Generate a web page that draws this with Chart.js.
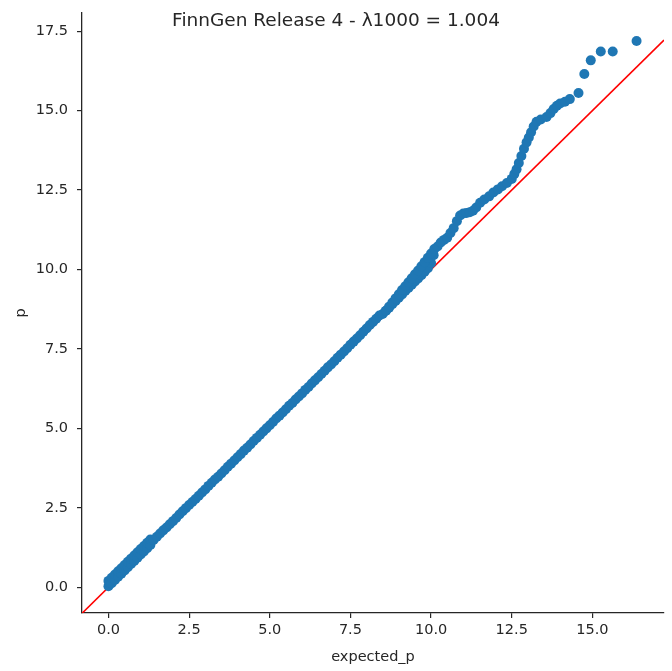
<!DOCTYPE html>
<html>
<head>
<meta charset="utf-8">
<script src="https://cdn.jsdelivr.net/npm/chart.js@4"></script>
<style>
  html, body { margin: 0; padding: 0; background: #fff; }
  #wrap { width: 672px; height: 671px; }
</style>
</head>
<body>
<div id="wrap"><canvas id="qq-chart"></canvas></div>
<script>
const titleText = "FinnGen Release 4 - \u03bb1000 = 1.004";

const expectedP = [
    0, 0, 0.05, 0.1, 0.1, 0.2, 0.2, 0.3, 0.3, 0.4, 0.4, 0.5, 0.5, 0.6, 0.6, 0.7, 0.7,
    0.8, 0.8, 0.9, 0.9, 1.0, 1.0, 1.1, 1.1, 1.2, 1.2, 1.3, 1.3,
    1.4, 1.5, 1.6, 1.7, 1.8, 1.9, 2.0, 2.1, 2.2, 2.3, 2.4, 2.5, 2.6, 2.7, 2.8, 2.9,
    3.0, 3.1, 3.2, 3.3, 3.4, 3.5, 3.6, 3.7, 3.8, 3.9, 4.0, 4.1, 4.2, 4.3, 4.4, 4.5,
    4.6, 4.7, 4.8, 4.9, 5.0, 5.1, 5.2, 5.3, 5.4, 5.5, 5.6, 5.7, 5.8, 5.9, 6.0, 6.1,
    6.2, 6.3, 6.4, 6.5, 6.6, 6.7, 6.8, 6.9, 7.0, 7.1, 7.2, 7.3, 7.4, 7.5, 7.6, 7.7,
    7.8, 7.9, 8.0, 8.1, 8.2, 8.3, 8.4, 8.5, 8.6, 8.7, 8.8, 8.9, 9.0, 9.1, 9.2, 9.3,
    9.4, 9.5, 9.6, 9.7, 9.8, 9.9, 10.0, 10.08,
    8.6, 8.7, 8.8, 8.9, 9.0, 9.1, 9.2, 9.3, 9.4, 9.5, 9.6, 9.7, 9.8, 9.9, 10.0, 10.1,
    10.2, 10.3, 10.4, 10.5, 10.6, 10.7, 10.8, 10.9, 11.0, 11.1, 11.2, 11.3, 11.4,
    11.52, 11.65, 11.8, 11.93, 12.07, 12.2, 12.35, 12.5, 12.58, 12.65, 12.72, 12.8,
    12.88, 12.96, 13.03, 13.1, 13.18, 13.27, 13.4, 13.58, 13.7, 13.8, 13.9, 14.0,
    14.15, 14.3, 14.57, 14.75, 14.95, 15.26, 15.63, 16.37
];
const observedP = [
    0.03, 0.2, 0.12, 0.13, 0.3, 0.23, 0.4, 0.33, 0.5, 0.43, 0.6, 0.53, 0.7, 0.63, 0.8, 0.73, 0.9,
    0.83, 1.0, 0.93, 1.1, 1.03, 1.2, 1.13, 1.3, 1.23, 1.4, 1.33, 1.5,
    1.49, 1.59, 1.69, 1.79, 1.88, 1.98, 2.08, 2.18, 2.29, 2.39, 2.49, 2.59, 2.68, 2.78, 2.88, 2.98,
    3.08, 3.19, 3.29, 3.39, 3.48, 3.58, 3.68, 3.79, 3.89, 3.99, 4.09, 4.19, 4.3, 4.39, 4.49, 4.6,
    4.7, 4.8, 4.9, 5.0, 5.1, 5.2, 5.31, 5.4, 5.5, 5.6, 5.71, 5.8, 5.91, 6.0, 6.1, 6.21,
    6.3, 6.41, 6.51, 6.61, 6.71, 6.81, 6.92, 7.01, 7.11, 7.22, 7.32, 7.42, 7.52, 7.63, 7.73, 7.83,
    7.93, 8.04, 8.14, 8.25, 8.35, 8.45, 8.55, 8.6, 8.7, 8.8, 8.91, 9.01, 9.11, 9.21, 9.32, 9.42,
    9.52, 9.62, 9.72, 9.82, 9.93, 10.04, 10.2, 10.45,
    8.7, 8.83, 8.96, 9.09, 9.22, 9.35, 9.47, 9.6, 9.72, 9.85, 9.97, 10.1, 10.23, 10.37, 10.5, 10.64,
    10.72, 10.85, 10.93, 11.0, 11.15, 11.3, 11.52, 11.7, 11.76, 11.78, 11.8, 11.85, 11.95,
    12.1, 12.2, 12.3, 12.42, 12.52, 12.62, 12.72, 12.85, 13.0, 13.15, 13.35, 13.57,
    13.8, 14.0, 14.15, 14.32, 14.5, 14.65, 14.72, 14.8, 14.92, 15.05, 15.15, 15.22,
    15.28, 15.36, 15.55, 16.15, 16.58, 16.86, 16.86, 17.19
];

const xMin = -0.82, xMax = 17.22;
const yMin = -0.81, yMax = 18.07;
const refLine = [xMin, xMax];

const inkColor = "#262626";
const fontFamily = "'DejaVu Sans', sans-serif";

const points = expectedP.map((x, i) => ({ x: x, y: observedP[i] }));
const diagonal = refLine.map(v => ({ x: v, y: v }));

// suptitle sits on top of the axes, like the figure title
const suptitle = {
    id: "suptitle",
    afterDraw(chart) {
        const ctx = chart.ctx;
        ctx.save();
        ctx.font = "18.5px " + fontFamily;
        ctx.fillStyle = inkColor;
        ctx.textAlign = "center";
        ctx.textBaseline = "middle";
        ctx.fillText(titleText, chart.width / 2, 21);
        ctx.restore();
    }
};

const ctx = document.getElementById("qq-chart");

new Chart(ctx, {
    type: "scatter",
    data: {
        datasets: [{
            label: "p",
            data: points,
            backgroundColor: "#1f77b4",
            borderWidth: 0,
            pointRadius: 5,
            pointHoverRadius: 5,
            order: 1
        }, {
            label: "y = x",
            data: diagonal,
            showLine: true,
            borderColor: "#ff0000",
            borderWidth: 1.6,
            pointRadius: 0,
            order: 2
        }]
    },
    options: {
        responsive: true,
        maintainAspectRatio: false,
        animation: false,
        layout: { padding: { left: 0, right: 8, top: 13, bottom: 0 } },
        plugins: {
            legend: { display: false },
            tooltip: { enabled: false }
        },
        scales: {
            x: {
                type: "linear",
                min: xMin,
                max: xMax,
                afterFit: scale => {
                    scale.height = 58;
                    scale.paddingLeft = 0;
                    scale.paddingRight = 0;
                },
                grid: { drawOnChartArea: false, drawTicks: true, tickLength: 5, color: inkColor, lineWidth: 1.2 },
                border: { display: true, color: inkColor, width: 1.3 },
                ticks: {
                    stepSize: 2.5,
                    includeBounds: false,
                    padding: 4,
                    color: inkColor,
                    font: { family: fontFamily, size: 14.5 },
                    callback: v => v.toFixed(1)
                },
                title: {
                    display: true,
                    text: "expected_p",
                    color: inkColor,
                    font: { family: fontFamily, size: 14.5 },
                    padding: { top: 0, bottom: 5 }
                }
            },
            y: {
                type: "linear",
                min: yMin,
                max: yMax,
                afterFit: scale => {
                    scale.width = 82;
                    scale.paddingTop = 0;
                    scale.paddingBottom = 0;
                },
                grid: { drawOnChartArea: false, drawTicks: true, tickLength: 5, color: inkColor, lineWidth: 1.2 },
                border: { display: true, color: inkColor, width: 1.3 },
                ticks: {
                    stepSize: 2.5,
                    includeBounds: false,
                    padding: 9,
                    color: inkColor,
                    font: { family: fontFamily, size: 14.5 },
                    callback: v => v.toFixed(1)
                },
                title: {
                    display: true,
                    text: "p",
                    color: inkColor,
                    font: { family: fontFamily, size: 14.5 },
                    padding: { top: 13, bottom: 0 }
                }
            }
        }
    },
    plugins: [suptitle]
});
</script>
</body>
</html>
